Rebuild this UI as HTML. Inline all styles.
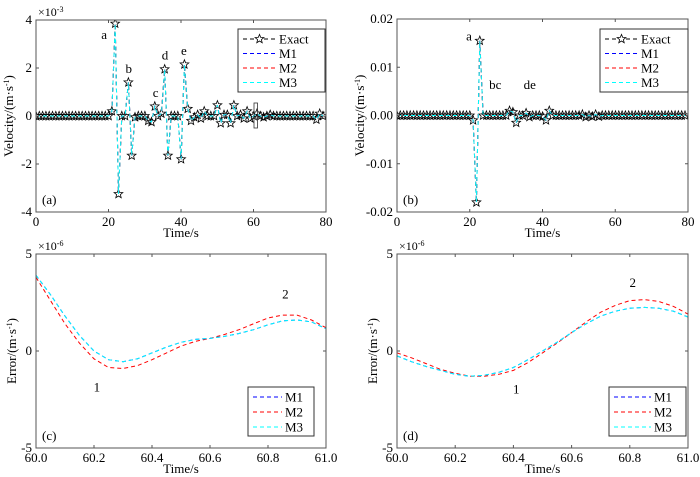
<!DOCTYPE html>
<html><head><meta charset="utf-8"><style>
body{margin:0;background:#fff}
svg{display:block}
svg text{font-family:"Liberation Serif","Times New Roman",serif}
</style></head><body>
<svg id="fig" width="700" height="477" viewBox="0 0 700 477" font-family="Liberation Serif, serif"></svg>
<script>
// ---- data ----
const dtTop = 0.91;
const exactA = [0,0,0,0,0,0,0,0,0,0,0,0,0,0,0,0,0,0,0,0,0,0,0,
 0.2,3.85,-3.25,0,0,1.4,-1.65,-0.05,0,0,0,-0.2,-0.25,0.4,0,0.1,1.95,-1.65,0,0,0,-1.8,2.15,0.3,-0.2,-0.05,0.05,-0.1,0.2,0,0,0,0.45,-0.3,0.05,0.05,-0.3,0.45,0,0.05,-0.1,0.2,-0.1,0,0.1,0,-0.05,0,0.05,0,0,0,0,0,0,0,0,0,0,0,0,0,-0.15,0.1,0];
const exactB = [0,0,0,0,0,0,0,0,0,0,0,0,0,0,0,0,0,0,0,0,0,0,0,
 -0.001,-0.018,0.0155,0,0,0,0,0,0,0,0,0.001,0.0007,-0.0015,0,0,0.0005,-0.0003,0,0,0,-0.0002,-0.001,0.001,0,0,0,0,0,0,0,0,0,0.0002,-0.0003,0,-0.0002,0.0002,-0.0002,0,0,0,0,0,0,0,0,0,0,0,0,0,0,0,0,0,0,0,0,0,0,0,0,0,0];
const errT = [60,60.05,60.1,60.15,60.2,60.25,60.3,60.35,60.4,60.45,60.5,60.55,60.6,60.65,60.7,60.75,60.8,60.85,60.9,60.95,61];
const cM2 = [3.8,2.6,1.4,0.4,-0.4,-0.85,-0.9,-0.75,-0.45,-0.1,0.25,0.5,0.65,0.85,1.1,1.4,1.7,1.85,1.85,1.6,1.2];
const cM1 = [3.9,2.9,1.8,0.8,0,-0.45,-0.55,-0.4,-0.1,0.2,0.45,0.6,0.65,0.75,0.9,1.1,1.35,1.55,1.6,1.5,1.15];
const cM3 = cM1.slice();
const dM2 = [-0.1,-0.35,-0.65,-0.95,-1.15,-1.3,-1.3,-1.2,-1.0,-0.6,-0.1,0.4,0.95,1.5,2.0,2.35,2.6,2.65,2.55,2.3,1.9];
const dM1 = [-0.25,-0.55,-0.8,-1.0,-1.2,-1.3,-1.25,-1.1,-0.85,-0.45,0,0.45,0.95,1.4,1.8,2.05,2.2,2.25,2.2,2.05,1.75];
const dM3 = dM1.slice();
const ticksTopX = [0,20,40,60,80];
const ticksAY = [-4,-2,0,2,4];
const ticksBY = [-0.02,-0.01,0,0.01,0.02];
const ticksBYLabels = ["-0.02","-0.01","0.00","0.01","0.02"];
const ticksErrX = [60,60.2,60.4,60.6,60.8,61];
const ticksErrY = [-5,0,5];

const NS="http://www.w3.org/2000/svg";
const FF='"Liberation Serif", serif';
const fig=document.getElementById('fig');
function el(tag,attrs,parent,text){const e=document.createElementNS(NS,tag);for(const k in attrs)e.setAttribute(k,attrs[k]);if(tag==='text')e.setAttribute('style','font-family:'+FF);if(text!==undefined)e.textContent=text;(parent||fig).appendChild(e);return e;}
function star(cx,cy,R,r){let d='';for(let k=0;k<10;k++){const rr=k%2?r:R,a=-Math.PI/2+k*Math.PI/5;d+=(k?'L':'M')+(cx+rr*Math.cos(a)).toFixed(1)+','+(cy+rr*Math.sin(a)).toFixed(1);}return d+'Z';}

function panel(o){
  const g=el('g',{});
  
  
  const X=v=>o.x0+(v-o.xmin)/(o.xmax-o.xmin)*(o.x1-o.x0);
  const Y=v=>o.y1-(v-o.ymin)/(o.ymax-o.ymin)*(o.y1-o.y0);
  const cp='clip-'+o.name;
  const cd=el('clipPath',{id:cp},g);el('rect',{x:o.x0,y:o.y0,width:o.x1-o.x0,height:o.y1-o.y0},cd);
  const plot=el('g',{'clip-path':'url(#'+cp+')'},g);
  const drawLine=(s)=>{
    const pts=s.ys.map((v,i)=>X(s.xs[i]).toFixed(1)+','+Y(v).toFixed(1)).join(' ');
    const pl=el('polyline',{points:pts,fill:'none',stroke:s.color,'stroke-width':1,'stroke-dasharray':'4,3'},plot);
    
    
  };
  o.series.forEach(s=>{
    drawLine(s);
    if(s.star){
      s.ys.forEach((v,i)=>{
        const st=el('path',{d:star(X(s.xs[i]),Y(v),4.6,2),fill:'none',stroke:'#000','stroke-width':0.8},plot);
        
        
      });
    }
  });
  if(o.overlay)o.overlay.forEach(drawLine);
  el('rect',{x:o.x0,y:o.y0,width:o.x1-o.x0,height:o.y1-o.y0,fill:'none',stroke:'#555','stroke-width':1},g);
  o.xt.forEach((t,i)=>{const x=X(t);
    el('line',{x1:x,x2:x,y1:o.y1,y2:o.y1-3,stroke:'#555'},g);el('line',{x1:x,x2:x,y1:o.y0,y2:o.y0+3,stroke:'#555'},g);
    const tl=el('text',{x:x,y:o.y1+14,'text-anchor':'middle','font-size':13},g,o.xtl?o.xtl[i]:String(t));
    });
  o.yt.forEach((t,i)=>{const y=Y(t);
    el('line',{x1:o.x0,x2:o.x0+3,y1:y,y2:y,stroke:'#555'},g);el('line',{x1:o.x1,x2:o.x1-3,y1:y,y2:y,stroke:'#555'},g);
    const tl=el('text',{x:o.x0-4,y:y+4,'text-anchor':'end','font-size':13},g,o.ytl?o.ytl[i]:String(t));
    });
  const xl=el('text',{x:(o.x0+o.x1)/2,y:o.y1+25,'text-anchor':'middle','font-size':13},g,'Time/s');
  
  const yl=el('text',{x:0,y:0,'text-anchor':'middle','font-size':13,transform:`translate(${o.ylx},${(o.y0+o.y1)/2}) rotate(-90)`},g);
  
  yl.appendChild(document.createTextNode(o.ylab+'/(m·s'));
  el('tspan',{'baseline-shift':'super','font-size':8},yl,'-1');
  yl.appendChild(document.createTextNode(')'));
  if(o.mult){const m=el('text',{x:o.x0+2,y:o.y0-4,'font-size':12},g,'×10');
    el('tspan',{'baseline-shift':'super','font-size':8},m,o.mult);
    }
  const pl=el('text',{x:o.x0+6,y:o.y1-8,'font-size':13},g,o.label);
  
  o.notes.forEach(n=>{const t=el('text',{x:X(n[1]),y:Y(n[2]),'text-anchor':'middle','font-size':13},g,n[0]);
    });
  const L=o.leg;const lg=el('g',{},g);
  
  el('rect',{x:L.x,y:L.y,width:L.w,height:L.h,fill:'#fff',stroke:'#333'},lg);
  L.items.forEach((it,i)=>{const cy=L.y+10+i*L.dy;
    const e=el('g',{},lg);
    el('line',{x1:L.x+5,x2:L.x+L.lw,y1:cy,y2:cy,stroke:it[1],'stroke-width':1,'stroke-dasharray':'4,3'},e);
    if(it[2])el('path',{d:star(L.x+5+(L.lw-5)/2,cy,4.6,2),fill:'#fff',stroke:'#000','stroke-width':0.8},e);
    el('text',{x:L.x+L.lw+3,y:cy+4.5,'font-size':13},e,it[0]);
  });
  return {g,X,Y};
}
const tA=exactA.map((_,i)=>i*dtTop), tB=exactB.map((_,i)=>i*dtTop);
panel({name:'panel-a',x0:36,x1:326,y0:20,y1:212,xmin:0,xmax:80,ymin:-4,ymax:4,xt:ticksTopX,yt:ticksAY,ylab:'Velocity',ylx:13,mult:'-3',label:'(a)',
  series:[{name:'exact-line',xs:tA,ys:exactA,color:'#000',star:true}],
  overlay:[{name:'m1-line',xs:tA,ys:exactA,color:'#0000ff'},{name:'m2-line',xs:tA,ys:exactA,color:'#ff0000'},{name:'m3-line',xs:tA,ys:exactA,color:'#00ffff'}],
  notes:[['a',18.8,3.2],['b',25.6,1.8],['c',33,0.8],['d',35.6,2.35],['e',40.8,2.55]],
  leg:{x:238,y:29,w:87,h:63,dy:14.5,lw:38,items:[['Exact','#000',true],['M1','#0000ff'],['M2','#ff0000'],['M3','#00ffff']]}});
const rb=el('rect',{x:254,y:103,width:3.5,height:25,fill:'none',stroke:'#333','stroke-width':0.8});

panel({name:'panel-b',x0:397,x1:688,y0:19,y1:212,xmin:0,xmax:80,ymin:-0.02,ymax:0.02,xt:ticksTopX,yt:ticksBY,ytl:ticksBYLabels,ylab:'Velocity',ylx:364,label:'(b)',
  series:[{name:'exact-line',xs:tB,ys:exactB,color:'#000',star:true}],
  overlay:[{name:'m1-line',xs:tB,ys:exactB,color:'#0000ff'},{name:'m2-line',xs:tB,ys:exactB,color:'#ff0000'},{name:'m3-line',xs:tB,ys:exactB,color:'#00ffff'}],
  notes:[['a',19.8,0.0155],['bc',27,0.0055],['de',36.5,0.0055]],
  leg:{x:600,y:29,w:88,h:63,dy:14.5,lw:38,items:[['Exact','#000',true],['M1','#0000ff'],['M2','#ff0000'],['M3','#00ffff']]}});
panel({name:'panel-c',x0:36,x1:326,y0:254,y1:448,xmin:60,xmax:61,ymin:-5,ymax:5,xt:ticksErrX,xtl:ticksErrX.map(v=>v.toFixed(1)),yt:ticksErrY,ylab:'Error',ylx:16,mult:'-6',label:'(c)',
  series:[{name:'m2-line',xs:errT,ys:cM2,color:'#ff0000'},{name:'m1-line',xs:errT,ys:cM1,color:'#0000ff'},{name:'m3-line',xs:errT,ys:cM3,color:'#00ffff'}],
  notes:[['1',60.21,-2.1],['2',60.86,2.7]],
  leg:{x:248,y:387,w:66,h:49,dy:15,lw:34,items:[['M1','#0000ff'],['M2','#ff0000'],['M3','#00ffff']]}});
panel({name:'panel-d',x0:397,x1:688,y0:254,y1:448,xmin:60,xmax:61,ymin:-5,ymax:5,xt:ticksErrX,xtl:ticksErrX.map(v=>v.toFixed(1)),yt:ticksErrY,ylab:'Error',ylx:377,mult:'-6',label:'(d)',
  series:[{name:'m2-line',xs:errT,ys:dM2,color:'#ff0000'},{name:'m1-line',xs:errT,ys:dM1,color:'#0000ff'},{name:'m3-line',xs:errT,ys:dM3,color:'#00ffff'}],
  notes:[['1',60.41,-2.2],['2',60.81,3.3]],
  leg:{x:609,y:387,w:77,h:49,dy:15,lw:42,items:[['M1','#0000ff'],['M2','#ff0000'],['M3','#00ffff']]}});
</script>
</body></html>
